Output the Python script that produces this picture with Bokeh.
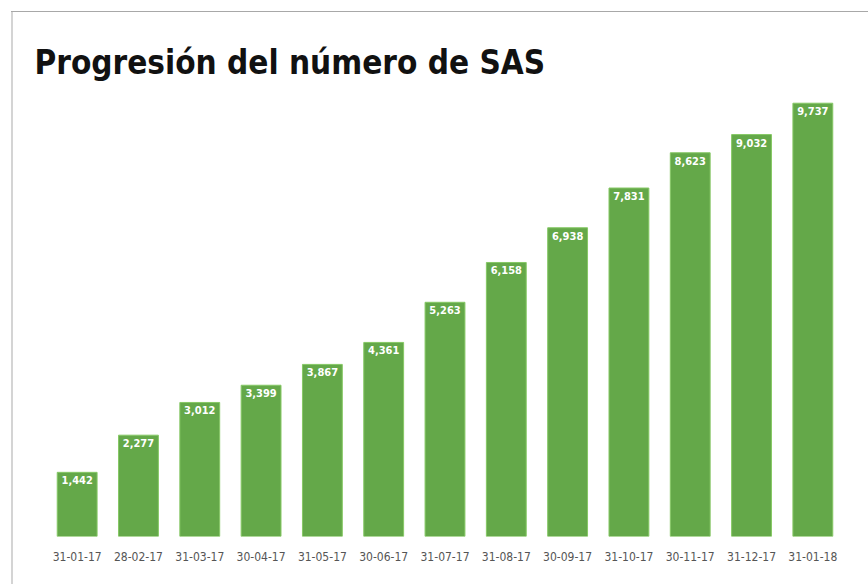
from bokeh.plotting import figure
from bokeh.models import ColumnDataSource, Range1d, FactorRange, Div
from bokeh.layouts import row
from bokeh.embed import file_html
from bokeh.resources import INLINE
from bokeh.core.properties import value

dates = ["31-01-17", "28-02-17", "31-03-17", "30-04-17", "31-05-17", "30-06-17",
         "31-07-17", "31-08-17", "30-09-17", "31-10-17", "30-11-17", "31-12-17", "31-01-18"]
counts = [1442, 2277, 3012, 3399, 3867, 4361, 5263, 6158, 6938, 7831, 8623, 9032, 9737]
labels = [f"{v:,}" for v in counts]

src = ColumnDataSource(dict(x=dates, top=counts, lab=labels))

FONT = "'Liberation Sans Narrow', 'DejaVu Sans Condensed', 'Roboto Condensed', 'Liberation Sans', sans-serif"

p = figure(width=855, height=573, x_range=FactorRange(*dates, range_padding=0),
           y_range=Range1d(0, 10000), output_backend="svg", toolbar_location=None,
           min_border_left=33, min_border_right=25, min_border_top=79, min_border_bottom=49,
           margin=(11, 0, 0, 0))
p.styles = {"border-top": "1px solid #a8a8a8"}

edge = Div(text="", width=2, height=573, margin=(11, 0, 0, 11),
           styles={"background-color": "#d4d4d4", "border-top": "1px solid #a8a8a8"})

p.title.text = "Progresión del número de SAS"
p.title.text_font = FONT
p.title.text_font_size = "33px"
p.title.text_font_style = "bold"
p.title.text_color = "#111111"
p.title.align = "left"
p.title.offset = -12
p.title.standoff = 19

p.vbar(x="x", top="top", width=0.65, source=src, fill_color="#64a849",
       line_color="#86c865", line_width=1)
p.text(x="x", y="top", text="lab", source=src, text_align="center", text_baseline="top",
       y_offset=4, text_color="white", text_font=value(FONT), text_font_size="11px",
       text_font_style="bold")

p.outline_line_color = None
p.xgrid.visible = False
p.ygrid.visible = False
p.yaxis.visible = False
p.xaxis.axis_line_color = None
p.xaxis.major_tick_line_color = None
p.xaxis.minor_tick_line_color = None
p.xaxis.major_label_text_font = FONT
p.xaxis.major_label_text_font_size = "12px"
p.xaxis.major_label_text_color = "#555555"
p.xaxis.major_label_standoff = 9

layout = row(edge, p, spacing=0, margin=0)

open("out.html", "w").write(file_html(layout, INLINE))
